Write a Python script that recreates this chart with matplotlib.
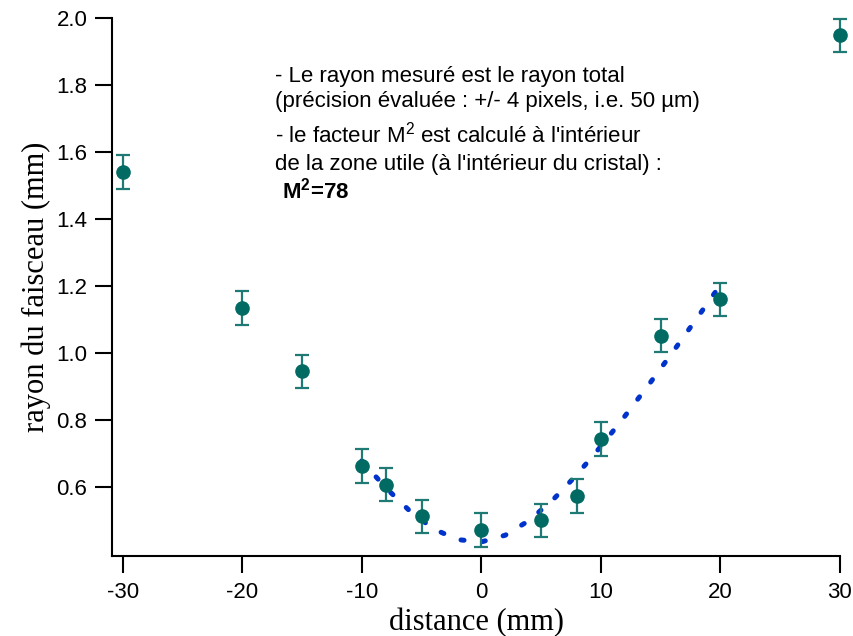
import numpy as np
import matplotlib.pyplot as plt

plt.rcParams['mathtext.fontset'] = 'custom'
plt.rcParams['mathtext.rm'] = 'Liberation Sans'
plt.rcParams['mathtext.bf'] = 'Liberation Sans:bold'

# mesures : distance (mm) et rayon du faisceau (mm)
distance = [-30, -20, -15, -10, -8, -5, 0, 5, 8, 10, 15, 20, 30]
rayon = [1.54, 1.135, 0.945, 0.663, 0.607, 0.512, 0.472, 0.500, 0.573, 0.743, 1.052, 1.160, 1.948]
erreur = [0.05] * len(distance)

fit_x = [-10, -8, -6, -4, -2, 0, 2, 4, 6, 8, 10, 12, 14, 16, 18, 20]
fit_y = [0.678, 0.598, 0.529, 0.475, 0.443, 0.436, 0.456, 0.500, 0.562, 0.637,
         0.721, 0.811, 0.905, 1.002, 1.102, 1.203]

x_ticks = [-30, -20, -10, 0, 10, 20, 30]
y_ticks = [0.6, 0.8, 1.0, 1.2, 1.4, 1.6, 1.8, 2.0]

fig = plt.figure(figsize=(8.54, 6.36), dpi=100)
ax = fig.add_axes([112.3 / 854, 1 - 556 / 636, (840.5 - 112.3) / 854, (556 - 18) / 636])

ax.plot(fit_x, fit_y, color='#0033cc', lw=3.6, linestyle=(0, (0.6, 3.7)),
        dash_capstyle='round', zorder=3)
ax.errorbar(distance, rayon, yerr=erreur, fmt='o', color='#006a63', ms=9.5,
            ecolor='#1f7a76', elinewidth=1.6, capsize=4.7, capthick=1.6,
            clip_on=False, zorder=4)

ax.set_xlim(-30.87, 30.05)
ax.set_ylim(0.394, 2.0)
ax.set_xticks(x_ticks)
ax.set_yticks(y_ticks)
ax.set_xticklabels([str(t) for t in x_ticks], fontsize=16, family='Liberation Sans')
ax.set_yticklabels(['%.1f' % t for t in y_ticks], fontsize=16, family='Liberation Sans')
ax.tick_params(length=12, width=1.5, color='black')
ax.tick_params(axis='x', pad=7)
ax.tick_params(axis='y', pad=6)

for s in ['top', 'right']:
    ax.spines[s].set_visible(False)
for s in ['left', 'bottom']:
    ax.spines[s].set_linewidth(1.5)

ax.set_xlabel('distance (mm)', fontsize=22, family='Liberation Serif', labelpad=3)
ax.set_ylabel('rayon du faisceau (mm)', fontsize=22, family='Liberation Serif', labelpad=4)

txt = dict(fontsize=16, family='Liberation Sans', transform=fig.transFigure, va='baseline')
fig.text(275 / 854, 1 - 82 / 636, '- Le rayon mesuré est le rayon total', **txt)
fig.text(275 / 854, 1 - 107 / 636, '(précision évaluée : +/- 4 pixels, i.e. 50 µm)', **txt)
fig.text(275 / 854, 1 - 142 / 636, "- le facteur M$^2$ est calculé à l'intérieur", **txt)
fig.text(275 / 854, 1 - 170 / 636, "de la zone utile (à l'intérieur du cristal) :", **txt)
fig.text(282 / 854, 1 - 198 / 636, r'M$^\mathbf{2}$=78', fontweight='bold', **txt)

fig.savefig('out.png', dpi=100)
